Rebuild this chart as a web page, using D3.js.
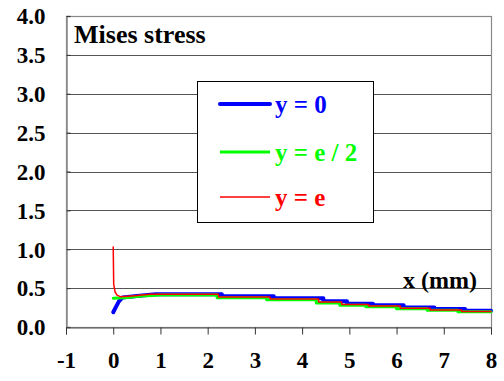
<!DOCTYPE html>
<html>
<head>
<meta charset="utf-8">
<script src="https://cdn.jsdelivr.net/npm/d3@7"></script>
<style>
  html, body { margin: 0; padding: 0; background: #fff; }
  svg { display: block; }
</style>
</head>
<body>
<svg id="chart" width="504" height="381"></svg>
<script>
// Mises stress along x for three positions y
const xTicks = [-1, 0, 1, 2, 3, 4, 5, 6, 7, 8];
const yTicks = [0, 0.5, 1.0, 1.5, 2.0, 2.5, 3.0, 3.5, 4.0];

const seriesNames = ["y = 0", "y = e / 2", "y = e"];
const seriesColors = ["#0000ff", "#00ff00", "#ff0000"];
const seriesWidths = [4, 3, 1.5];

// y = 0
const xBlue = [0, 0.05, 0.12, 0.2, 0.5, 0.9, 2.3, 2.3, 3.4, 3.4, 4.45, 4.45, 4.95, 4.95, 5.5, 5.5, 6.15, 6.15, 6.8, 6.8, 7.45, 7.45, 8];
const vBlue = [0.19, 0.25, 0.33, 0.38, 0.40, 0.42, 0.42, 0.395, 0.395, 0.37, 0.37, 0.33, 0.33, 0.30, 0.30, 0.28, 0.28, 0.25, 0.25, 0.23, 0.23, 0.21, 0.21];

// y = e / 2
const xGreen = [0, 0.3, 0.6, 1.0, 2.2, 2.2, 3.25, 3.25, 4.3, 4.3, 4.8, 4.8, 5.35, 5.35, 6.0, 6.0, 6.65, 6.65, 7.3, 7.3, 8];
const vGreen = [0.37, 0.38, 0.40, 0.41, 0.41, 0.375, 0.375, 0.35, 0.35, 0.31, 0.31, 0.28, 0.28, 0.26, 0.26, 0.235, 0.235, 0.215, 0.215, 0.195, 0.195];

// y = e
const xRed = [0, 0.01, 0.04, 0.08, 0.15, 0.4, 0.78, 2.23, 2.23, 3.32, 3.32, 4.35, 4.35, 4.84, 4.84, 5.41, 5.41, 6.08, 6.08, 6.71, 6.71, 7.38, 7.38, 8];
const vRed = [1.03, 0.55, 0.45, 0.41, 0.39, 0.40, 0.42, 0.42, 0.385, 0.385, 0.36, 0.36, 0.32, 0.32, 0.29, 0.29, 0.27, 0.27, 0.24, 0.24, 0.22, 0.22, 0.20, 0.20];

const FONT = '"Liberation Serif", "Times New Roman", serif';
const svg = d3.select("#chart");
const plotLeft = 66, plotRight = 491, plotTop = 16, plotBottom = 327;

const x = d3.scaleLinear().domain([-1, 8]).range([plotLeft, plotRight]);
const y = d3.scaleLinear().domain([0, 4]).range([plotBottom, plotTop]);

function boldText(sel, size, color) {
  return sel.style("font-family", FONT).style("font-weight", "bold")
    .style("font-size", size + "px").attr("fill", color);
}

// horizontal grid
svg.append("g")
  .selectAll("line")
  .data(yTicks.filter(d => d > 0 && d < 4))
  .join("line")
  .attr("x1", plotLeft).attr("x2", plotRight)
  .attr("y1", d => Math.round(y(d)) + 0.5).attr("y2", d => Math.round(y(d)) + 0.5)
  .attr("stroke", "#555").attr("stroke-width", 1);

// plot frame
svg.append("rect")
  .attr("x", plotLeft + 0.5).attr("y", plotTop + 0.5)
  .attr("width", plotRight - plotLeft).attr("height", plotBottom - plotTop)
  .attr("fill", "none").attr("stroke", "#888").attr("stroke-width", 1.2);

// y axis
const yAxis = d3.axisLeft(y).tickValues(yTicks).tickFormat(d3.format(".1f")).tickSize(-4).tickPadding(21);
const gy = svg.append("g").attr("transform", `translate(${plotLeft + 0.5},0)`).call(yAxis);
gy.select(".domain").attr("stroke", "#888").attr("stroke-width", 1.5);
gy.selectAll(".tick line").attr("stroke", "#333");
boldText(gy.selectAll("text"), 23, "#000").attr("dy", "0.34em");

// x axis
const xAxis = d3.axisBottom(x).tickValues(xTicks).tickFormat(d => String(d)).tickSize(7).tickPadding(17);
const gx = svg.append("g").attr("transform", `translate(0,${plotBottom + 0.5})`).call(xAxis);
gx.select(".domain").attr("stroke", "#555").attr("stroke-width", 1);
gx.selectAll(".tick line").attr("stroke", "#333");
boldText(gx.selectAll("text"), 23, "#000");

// curves
const line = d3.line().x(d => x(d[0])).y(d => y(d[1]));
const series = [
  d3.zip(xBlue, vBlue),
  d3.zip(xGreen, vGreen),
  d3.zip(xRed, vRed)
];
series.forEach((s, i) => {
  svg.append("path").datum(s)
    .attr("d", line)
    .attr("fill", "none")
    .attr("stroke", seriesColors[i])
    .attr("stroke-width", seriesWidths[i])
    .attr("stroke-linejoin", "round")
    .attr("stroke-linecap", "round");
});

// title
boldText(svg.append("text").attr("x", 74).attr("y", 43), 26, "#000").text("Mises stress");

// axis label
boldText(svg.append("text").attr("x", 403).attr("y", 288), 24, "#000").text("x (mm)");

// legend
const lg = svg.append("g");
lg.append("rect").attr("x", 197.5).attr("y", 81.5).attr("width", 176).attr("height", 141)
  .attr("fill", "#fff").attr("stroke", "#000").attr("stroke-width", 1);
const legendY = [104, 152, 197];
seriesNames.forEach((name, i) => {
  lg.append("line").attr("x1", 220).attr("x2", 270)
    .attr("y1", legendY[i]).attr("y2", legendY[i])
    .attr("stroke", seriesColors[i]).attr("stroke-width", seriesWidths[i])
    .attr("stroke-linecap", i === 0 ? "round" : "butt");
  boldText(lg.append("text").attr("x", 275).attr("y", legendY[i]).attr("dy", "0.35em"), 25, seriesColors[i])
    .text(name);
});
</script>
</body>
</html>
